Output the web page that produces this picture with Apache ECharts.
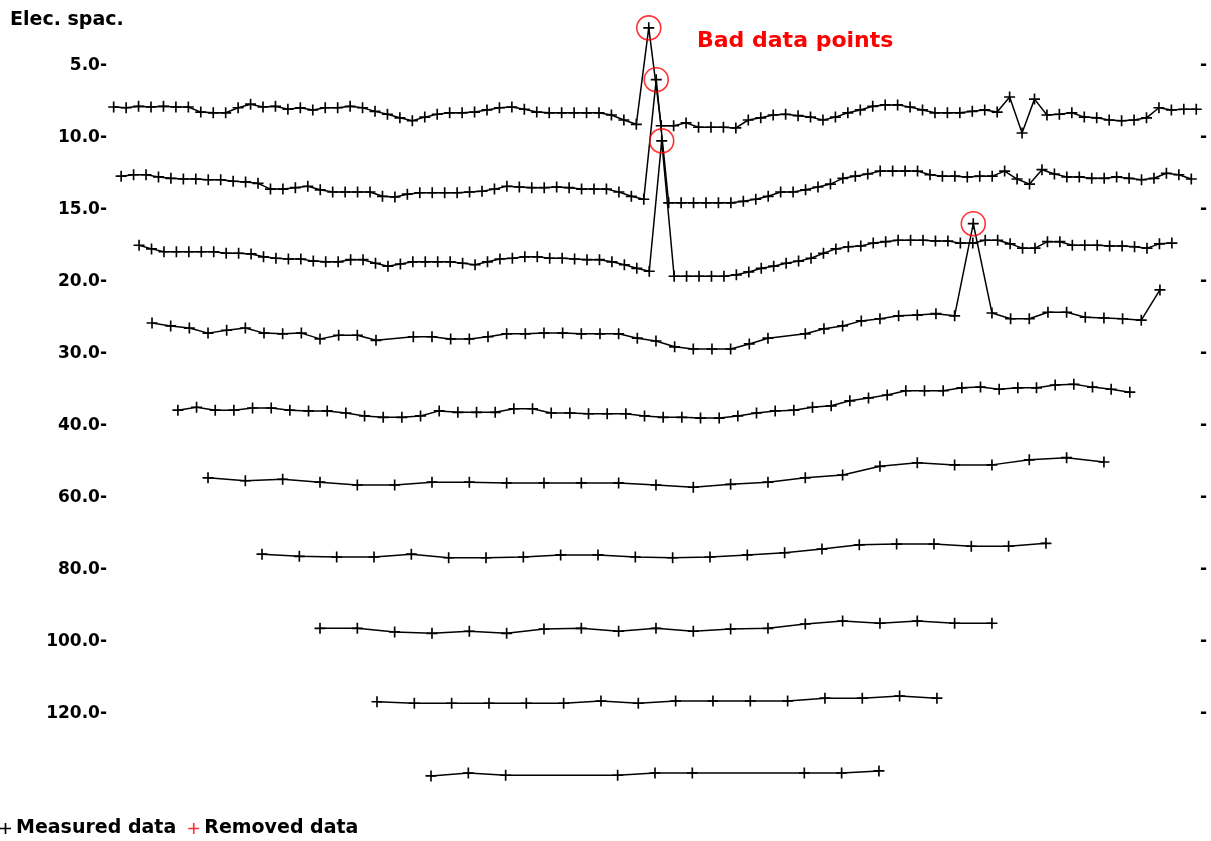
<!DOCTYPE html>
<html>
<head>
<meta charset="utf-8">
<script src="https://cdn.jsdelivr.net/npm/echarts@6/dist/echarts.min.js"></script>
<style>
html,body{margin:0;padding:0;background:#fff;}
#chart{width:1211px;height:841px;}
</style>
</head>
<body>
<div id="chart"></div>
<script>
// Electrode spacing labels (one per data level)
const elecLabels = ['5.0','10.0','15.0','20.0','30.0','40.0','60.0','80.0','100.0','120.0'];
// first datum location (m) and datum step (m) for each level
const rowStart = [5.5, 8.5, 15.7, 20.9, 31.3, 43.4, 65.1, 88.4, 111.3, 133.0];
const rowStep  = [5, 5, 5, 7.5, 7.5, 15, 15, 15, 15, 15];
// plotted values of each level (display units, null = missing datum)
const row1 = [5.7,5.8,5.6,5.7,5.6,5.7,5.7,6.4,6.5,6.5, 5.8,5.3,5.7,5.6,6.0,5.8,6.1,5.8,5.8,5.6,
  5.8,6.3,6.7,7.2,7.6,7.1,6.7,6.5,6.5,6.4, 6.1,5.8,5.7,6.0,6.4,6.5,6.5,6.5,6.5,6.5,
  6.8,7.5,8.1,-5.3,8.3,8.3,7.9,8.5,8.5,8.5, 8.6,7.5,7.2,6.8,6.7,6.9,7.1,7.5,7.1,6.5,
  6.1,5.6,5.4,5.4,5.7,6.1,6.5,6.5,6.5,6.3, 6.1,6.4,4.3,9.3,4.6,6.8,6.7,6.5,7.1,7.2,
  7.5,7.6,7.5,7.2,5.8,6.1,6.0,6.0];
const row2 = [15.3,15.1,15.1,15.4,15.6,15.7,15.7,15.8,15.8,16.0, 16.1,16.3,17.1,17.1,16.9,16.7,17.2,17.5,17.5,17.5,
  17.5,18.1,18.2,17.8,17.6,17.6,17.6,17.6,17.5,17.4, 17.1,16.7,16.8,16.9,16.9,16.8,16.9,17.1,17.1,17.1,
  17.5,18.1,18.5,1.9,19.0,19.0,19.0,19.0,19.0,19.0, 18.8,18.5,18.1,17.5,17.5,17.2,16.8,16.4,15.6,15.3,
  15.0,14.6,14.6,14.6,14.6,15.1,15.3,15.3,15.4,15.3, 15.3,14.6,15.7,16.4,14.4,15.0,15.4,15.4,15.6,15.6,
  15.4,15.6,15.8,15.6,14.9,15.1,15.7];
const row3 = [24.9,25.4,25.8,25.8,25.8,25.8,25.8,26.0,26.0,26.1, 26.5,26.7,26.8,26.8,27.1,27.2,27.2,26.9,26.9,27.4,
  27.8,27.5,27.2,27.2,27.2,27.2,27.4,27.6,27.2,26.8, 26.7,26.5,26.5,26.7,26.7,26.8,26.9,26.9,27.2,27.6,
  28.1,28.5,10.4,29.2,29.2,29.2,29.2,29.2,29.0,28.6, 28.1,27.8,27.4,27.1,26.7,26.0,25.4,25.1,25.0,24.6,
  24.4,24.2,24.2,24.2,24.3,24.3,24.6,24.6,24.2,24.2, 24.7,25.3,25.3,24.4,24.4,24.9,24.9,24.9,25.0,25.0,
  25.1,25.3,24.7,24.6];
const row4 = [35.7,36.1,36.4,37.1,36.7,36.4,37.1,37.2,37.1,37.9, 37.4,37.4,38.1,null,37.6,37.6,37.9,37.9,37.6,37.2,
  37.2,37.1,37.1,37.2,37.2,37.2,37.8,38.2,39.0,39.3, 39.3,39.3,38.6,37.8,null,37.2,36.5,36.1,35.4,35.1,
  34.7,34.6,34.4,34.7,21.9,34.3,35.1,35.1,34.2,34.2, 34.9,35.0,35.1,35.3,31.1];
const row5 = [47.8,47.4,47.8,47.8,47.5,47.5,47.8,47.9,47.9,48.2, 48.6,48.8,48.8,48.6,47.9,48.1,48.1,48.1,47.6,47.6,
  48.2,48.2,48.3,48.3,48.3,48.6,48.8,48.8,48.9,48.9, 48.6,48.2,47.9,47.8,47.4,47.2,46.5,46.1,45.7,45.1,
  45.1,45.1,44.7,44.6,44.9,44.7,44.7,44.3,44.2,44.6, 44.9,45.3];
const row6 = [57.2,57.6,57.4,57.8,58.2,58.2,57.8,57.8,57.9,57.9, 57.9,57.9,58.2,58.5,58.1,57.8,57.2,56.8,55.6,55.1,
  55.4,55.4,54.7,54.4,55.0];
const row7 = [67.8,68.1,68.2,68.2,67.8,68.3,68.3,68.2,67.9,67.9, 68.2,68.3,68.2,67.9,67.6,67.1,66.5,66.4,66.4,66.7,
  66.7,66.3];
const row8 = [78.1,78.1,78.6,78.8,78.5,78.8,78.2,78.1,78.5,78.1, 78.5,78.2,78.1,77.5,77.1,77.4,77.1,77.4,77.4];
const row9 = [88.3,88.5,88.5,88.5,88.5,88.5,88.2,88.5,88.2,88.2, 88.2,88.2,87.8,87.8,87.5,87.8];
const row10 = [98.6,98.2,98.5,null,null,98.5,98.2,98.2,null,null,98.2,98.2,97.9];
// bad data points: [level index, datum index]
const badPoints = [[0,43],[1,43],[2,42],[3,44]];

const rows = [row1,row2,row3,row4,row5,row6,row7,row8,row9,row10];
const FONT = 'DejaVu Sans';
const plusPath = 'path://M4.25,0h1.5v4.25h4.25v1.5h-4.25v4.25h-1.5v-4.25h-4.25v-1.5h4.25z';

function levelLabel(v, withText) {
  const k = Math.round(v / 10);
  if (Math.abs(v - k * 10) < 1e-6 && k >= 0 && k < elecLabels.length) {
    return withText ? elecLabels[k] + '-' : '-';
  }
  return '';
}

const series = rows.map((vals, r) => ({
  type: 'line',
  name: 'Measured data',
  data: vals.map((v, i) => [rowStart[r] + i * rowStep[r], v === null ? '-' : v]),
  symbol: plusPath,
  symbolSize: 11,
  showSymbol: true,
  connectNulls: true,
  clip: false,
  silent: true,
  lineStyle: { color: '#000', width: 1.5 },
  itemStyle: { color: '#000' },
  z: 2
}));
series.push({
  type: 'scatter',
  name: 'Removed data',
  data: badPoints.map(([r, i]) => [rowStart[r] + i * rowStep[r], rows[r][i]]),
  symbol: 'circle',
  symbolSize: 24,
  clip: false,
  silent: true,
  itemStyle: { color: 'rgba(0,0,0,0)', borderColor: '#ff0000', borderWidth: 1.6 },
  z: 3
});

const chart = echarts.init(document.getElementById('chart'), null, { renderer: 'canvas' });
chart.setOption({
  animation: false,
  backgroundColor: '#fff',
  title: [
    { text: 'Elec. spac.', left: 10, top: 11, padding: 0,
      textStyle: { fontFamily: FONT, fontWeight: 'bold', fontSize: 19, color: '#000' } },
    { text: 'Bad data points', left: 697, top: 30, padding: 0,
      textStyle: { fontFamily: FONT, fontWeight: 'bold', fontSize: 22, color: '#ff0000' } }
  ],
  legend: {
    left: 0, top: 819, padding: 0, itemWidth: 11, itemHeight: 11, itemGap: 12,
    selectedMode: false,
    textStyle: { fontFamily: FONT, fontWeight: 'bold', fontSize: 19, color: '#000' },
    data: [
      { name: 'Measured data', icon: plusPath, itemStyle: { color: '#000' } },
      { name: 'Removed data', icon: plusPath, itemStyle: { color: '#ff0000', borderWidth: 0 } }
    ]
  },
  grid: { left: 100, right: 11, top: 12, bottom: 19, containLabel: false },
  xAxis: { type: 'value', min: 0, max: 442, show: false },
  yAxis: [
    { type: 'value', inverse: true, min: -7.5, max: 105, interval: 2.5, position: 'left',
      axisLine: { show: false }, axisTick: { show: false }, splitLine: { show: false },
      axisLabel: { margin: -7, fontFamily: FONT, fontWeight: 'bold', fontSize: 17, color: '#000',
        formatter: v => levelLabel(v, true) } },
    { type: 'value', inverse: true, min: -7.5, max: 105, interval: 2.5, position: 'right',
      axisLine: { show: false }, axisTick: { show: false }, splitLine: { show: false },
      axisLabel: { margin: 0, fontFamily: FONT, fontWeight: 'bold', fontSize: 17, color: '#000',
        formatter: v => levelLabel(v, false) } }
  ],
  series: series
});
</script>
</body>
</html>
